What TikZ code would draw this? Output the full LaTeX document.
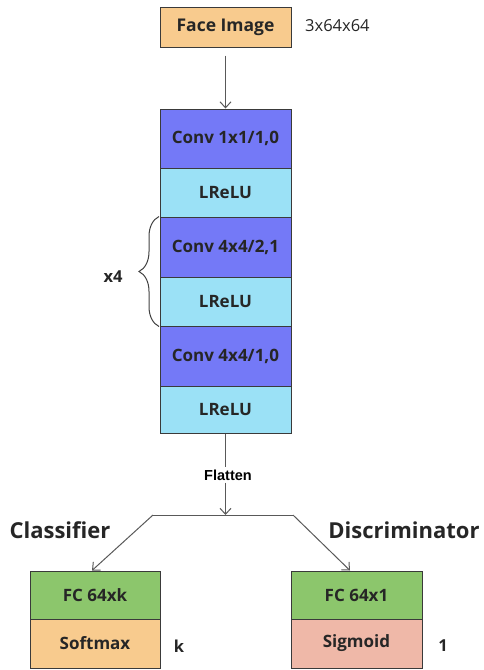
\documentclass[tikz,border=0pt]{standalone}
\usepackage{fontspec}
\setmainfont{Open Sans}
\newfontfamily\arialfont{Liberation Sans}
\usetikzlibrary{arrows.meta,decorations.pathreplacing}
\definecolor{faceor}{HTML}{F8CB8E}
\definecolor{convbl}{HTML}{7479F7}
\definecolor{relucy}{HTML}{9BE1F6}
\definecolor{fcgr}{HTML}{8CC66C}
\definecolor{sigred}{HTML}{EFB8A8}
\definecolor{edgec}{HTML}{3A3A3A}
\tikzset{
  blk/.style={draw=edgec, line width=1pt, minimum width=131pt, inner sep=0pt, font=\bfseries\fontsize{17}{19}\selectfont, text=black!85},
  conn/.style={draw=black!65, line width=1pt},
  arr/.style={conn, -{Straight Barb[length=6pt,width=11pt]}},
  side/.style={font=\bfseries\fontsize{16.5}{19}\selectfont, text=black!85},
  head/.style={font=\bfseries\fontsize{22}{26}\selectfont, text=black!85}
}
\begin{document}
\begin{tikzpicture}[x=1pt,y=-1pt]
\useasboundingbox (0,0) rectangle (484,670);
% input
\node[blk, fill=faceor, minimum height=40pt, font=\bfseries\fontsize{17.5}{19}\selectfont] (face) at (225.5,27) {Face Image};
\node[anchor=west, inner sep=0pt, font=\fontsize{16.5}{19}\selectfont, text=black!85] (dim) at (305,26) {3x64x64};
% stack
\node[blk, fill=convbl, minimum height=59pt] (r1) at (225.5,138.5) {Conv 1x1/1,0};
\node[blk, fill=relucy, minimum height=49pt] (r2) at (225.5,192.5) {LReLU};
\node[blk, fill=convbl, minimum height=60pt] (r3) at (225.5,247) {Conv 4x4/2,1};
\node[blk, fill=relucy, minimum height=49pt] (r4) at (225.5,301.5) {LReLU};
\node[blk, fill=convbl, minimum height=60pt] (r5) at (225.5,356) {Conv 4x4/1,0};
\node[blk, fill=relucy, minimum height=47pt] (r6) at (225.5,409.5) {LReLU};
\draw[arr] (face.south) ++(0,8) coordinate (fs) -- (r1.north);
% brace
\draw[black!75, line width=1pt, decorate, decoration={brace, amplitude=20pt}] ([xshift=-0.5pt]r4.south west) -- ([xshift=-0.5pt]r3.north west);
\node[side] (x4) at (113,277) {x4};
% flatten
\node[font=\arialfont\bfseries\fontsize{14.5}{16}\selectfont, inner sep=2pt] (flat) at (228,475) {Flatten};
\draw[conn] (r6.south) -- (r6.south |- flat.north);
\coordinate (split) at (225.5,515);
\draw[arr] (split |- flat.south) -- (split);
\coordinate (L) at (153,515);
\coordinate (R) at (293,515);
\draw[conn] (L) -- (R);
% heads
\node[blk, fill=fcgr, minimum width=130pt, minimum height=48pt] (fc1) at (95,595) {FC 64xk};
\node[blk, fill=faceor, minimum width=130pt, minimum height=49pt] (sm) at (95,643.5) {Softmax};
\node[blk, fill=fcgr, minimum height=48pt] (fc2) at (356.5,595) {FC 64x1};
\node[blk, fill=sigred, minimum height=49pt] (sg) at (356.5,643.5) {Sigmoid};
\draw[arr] (L) -- (92,570.5);
\draw[arr] (R) -- (350,570.5);
\node[head] (cls) at (60,530) {Classifier};
\node[head] (dis) at (404,530) {Discriminator};
\node[side] (k) at (179,646) {k};
\node[side] (one) at (443,646) {1};
\end{tikzpicture}
\end{document}
